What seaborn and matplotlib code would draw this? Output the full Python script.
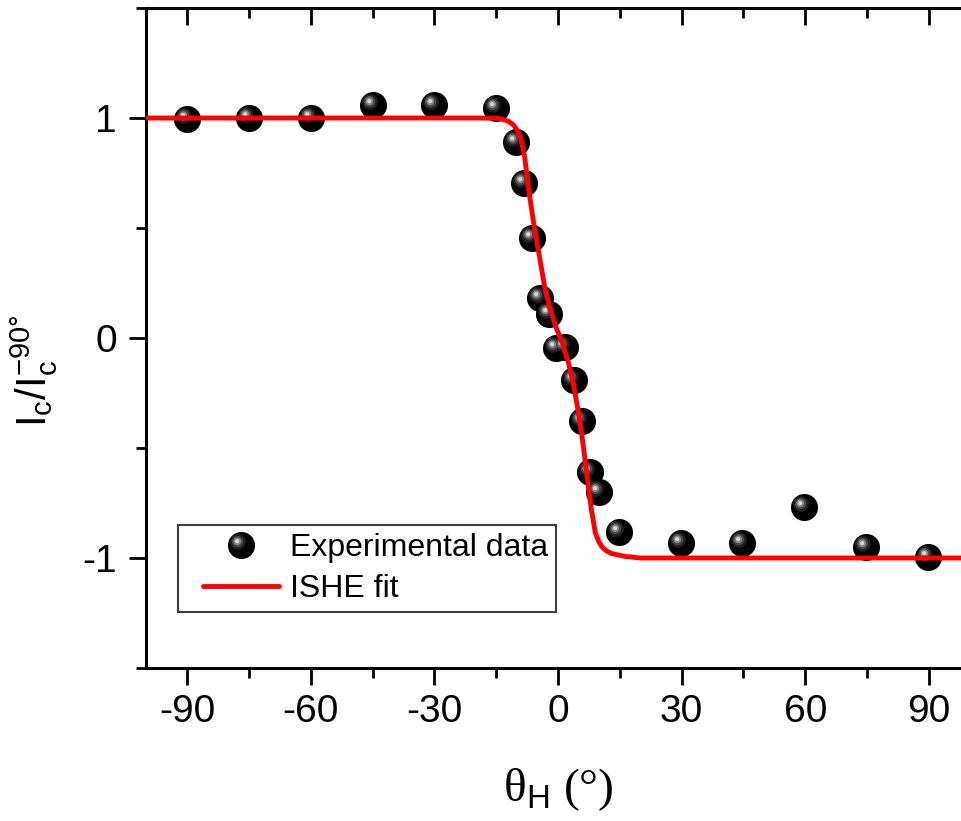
#!/usr/bin/env python3
# -*- coding: utf-8 -*-
"""Normalised charge current vs. field angle with ISHE fit."""

import matplotlib
matplotlib.use("Agg")
import matplotlib.pyplot as plt  # noqa: E402
import seaborn as sns  # noqa: E402
from matplotlib.legend_handler import HandlerLine2D, HandlerTuple  # noqa: E402
from matplotlib.lines import Line2D  # noqa: E402
from matplotlib.path import Path  # noqa: E402
from matplotlib.ticker import MultipleLocator  # noqa: E402

# =============================================================================
# DATA
# =============================================================================
theta_exp = [-90, -75, -60, -45, -30, -15, -10.2, -8.2, -6.3, -4.3, -2.3, -0.6,
             1.8, 3.8, 5.8, 7.8, 9.9, 14.7, 29.9, 44.7, 59.6, 74.8, 89.7]
ratio_exp = [0.995, 1.0, 1.0, 1.06, 1.06, 1.045, 0.892, 0.703, 0.453, 0.182,
             0.11, -0.047, -0.04, -0.19, -0.376, -0.608, -0.699, -0.88,
             -0.93, -0.93, -0.767, -0.951, -0.995]

theta_fit = [-100, -40, -20, -15, -13.6, -12, -10.8, -9.9, -9.1, -8.1, -7.1,
             -5.9, -4.5, -3.1, -1.8, -0.5, 1.0, 2.5, 3.8, 4.85, 6.07, 7.04,
             8.1, 9.06, 9.9, 10.7, 11.8, 13.1, 16.3, 20, 40, 100]
ratio_fit = [1.0, 1.0, 1.0, 0.999, 0.995, 0.985, 0.968, 0.945, 0.915, 0.824,
             0.673, 0.521, 0.37, 0.218, 0.125, 0.05, -0.02, -0.11, -0.215,
             -0.327, -0.48, -0.63, -0.78, -0.886, -0.925, -0.95, -0.968,
             -0.98, -0.993, -1.0, -1.0, -1.0]

x_ticks = [-90, -60, -30, 0, 30, 60, 90]
y_ticks = [-1, 0, 1]

# =============================================================================
# STYLE
# =============================================================================
MARKER_SIZE = 19.5  # points, sphere diameter
# glossy sphere drawn as stacked discs: (centre x, centre y, radius, colour)
SPHERE_LAYERS = [
    (0.0, 0.0, 1.0, "#000000"),
    (-0.26, 0.26, 0.58, "#202020"),
    (-0.29, 0.29, 0.42, "#4a4a4a"),
    (-0.31, 0.31, 0.28, "#8a8a8a"),
    (-0.32, 0.32, 0.15, "#d8d8d8"),
]

sns.set_style("ticks")
plt.rcParams["font.family"] = ["Liberation Sans", "DejaVu Sans"]
plt.rcParams["mathtext.fontset"] = "custom"
plt.rcParams["mathtext.rm"] = "Liberation Sans"
plt.rcParams["mathtext.sf"] = "Liberation Sans"
plt.rcParams["mathtext.it"] = "Liberation Sans:italic"
plt.rcParams["text.color"] = "black"
plt.rcParams["axes.labelcolor"] = "black"
plt.rcParams["xtick.color"] = "black"
plt.rcParams["ytick.color"] = "black"


def sphere_layer(cx: float, cy: float, r: float) -> Path:
    """Disc marker path in unit-sphere coordinates (anchored so all layers share scale)."""
    anchor = Path([(-1.0, -1.0), (1.0, 1.0)], [Path.MOVETO, Path.MOVETO])
    return Path.make_compound_path(anchor, Path.circle((cx, cy), r))


# =============================================================================
# PLOT
# =============================================================================
fig = plt.figure(figsize=(9.62, 8.21), dpi=100)
ax = fig.add_axes([146 / 962, 153 / 821, 824 / 962, 660 / 821])

for cx, cy, r, c in SPHERE_LAYERS:
    sns.scatterplot(x=theta_exp, y=ratio_exp, marker=sphere_layer(cx, cy, r),
                    s=MARKER_SIZE ** 2, color=c, linewidth=0, ax=ax,
                    zorder=3, legend=False)

sns.lineplot(x=theta_fit, y=ratio_fit, color="#ff0000", linewidth=3.5,
             ax=ax, zorder=4, legend=False)

ax.set_xlim(-100, 100)
ax.set_ylim(-1.5, 1.5)
ax.set_xticks(x_ticks)
ax.set_yticks(y_ticks)
ax.set_xticklabels([str(v) for v in x_ticks])
ax.set_yticklabels([str(v) for v in y_ticks])
ax.xaxis.set_minor_locator(MultipleLocator(15))
ax.yaxis.set_minor_locator(MultipleLocator(0.5))
ax.tick_params(axis="both", which="major", direction="out", length=12,
               width=2, labelsize=28, color="black", labelcolor="black")
ax.tick_params(axis="x", which="major", pad=7)
ax.tick_params(axis="y", which="major", pad=9)
ax.tick_params(axis="both", which="minor", direction="out", length=7,
               width=2, color="black")
for spine in ax.spines.values():
    spine.set_linewidth(2.2)
    spine.set_color("black")

# mirrored ticks on top, pointing inward
top = ax.secondary_xaxis("top")
top.set_xticks(x_ticks)
top.xaxis.set_minor_locator(MultipleLocator(15))
top.tick_params(axis="x", which="major", direction="in", length=12, width=2,
                labeltop=False)
top.tick_params(axis="x", which="minor", direction="in", length=7, width=2)
top.spines["top"].set_linewidth(2.2)

ax.set_xlabel(r"θ$_\mathsf{H}$ (°)", fontsize=34, family="Liberation Serif",
              labelpad=26)
ax.set_ylabel(r"I$_\mathregular{c}$/I$_\mathregular{c}^\mathregular{-90°}$",
              fontsize=30, labelpad=16)
ax.yaxis.label.set_y(0.45)

sphere_handle = tuple(
    Line2D([], [], linestyle="none", marker=sphere_layer(cx, cy, r),
           markersize=MARKER_SIZE, markerfacecolor=c, markeredgewidth=0)
    for cx, cy, r, c in SPHERE_LAYERS
)
line_handle = Line2D([], [], color="#ff0000", linewidth=3.5)
leg = ax.legend([sphere_handle, line_handle], ["Experimental data", "ISHE fit"],
                handler_map={tuple: HandlerTuple(ndivide=1, xpad=0.53),
                             Line2D: HandlerLine2D(xpad=0.53)},
                loc="lower left", bbox_to_anchor=(0.039, 0.085),
                borderaxespad=0, fontsize=23, frameon=True, fancybox=False,
                edgecolor="#404040", framealpha=1, handlelength=2.9,
                handletextpad=0.35, labelspacing=0.34, borderpad=0.25)
leg.get_frame().set_linewidth(1.5)

fig.savefig("out.png", dpi=100)
